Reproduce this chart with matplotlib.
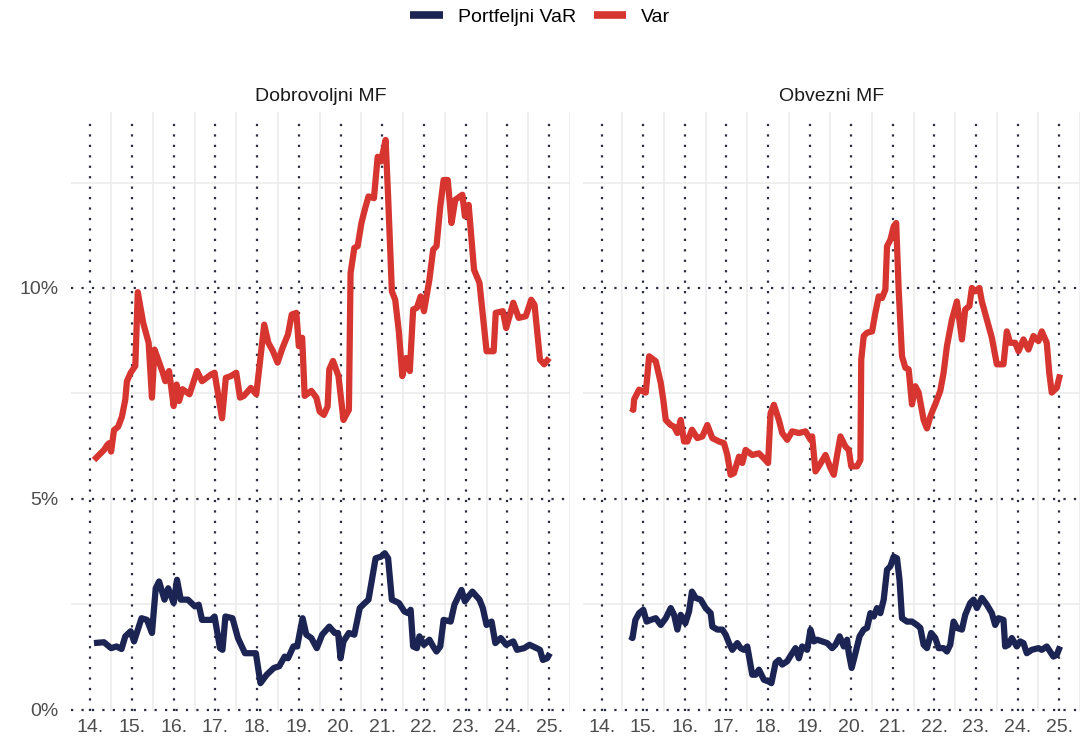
import matplotlib
matplotlib.use("Agg")
import matplotlib.pyplot as plt
from matplotlib.lines import Line2D

plt.rcParams['font.family'] = ['Liberation Sans', 'DejaVu Sans']

# godine (14 = 2014) i vrijednosti u %
dob_var_t = [14.09, 14.33, 14.41, 14.45, 14.50, 14.57, 14.67, 14.76, 14.84, 14.88, 14.97, 15.08,
             15.14, 15.27, 15.40, 15.48, 15.54, 15.60, 15.74, 15.80, 15.89, 16.00, 16.07, 16.13,
             16.21, 16.38, 16.56, 16.68, 16.90, 16.98, 17.16, 17.25, 17.37, 17.50, 17.59, 17.68,
             17.85, 17.98, 18.17, 18.27, 18.38, 18.49, 18.61, 18.74, 18.83, 18.94, 19.00, 19.08,
             19.14, 19.30, 19.42, 19.50, 19.60, 19.69, 19.73, 19.82, 19.95, 20.07, 20.20, 20.24,
             20.33, 20.41, 20.50, 20.59, 20.67, 20.80, 20.89, 20.97, 21.08, 21.14, 21.23, 21.31,
             21.40, 21.48, 21.57, 21.66, 21.74, 21.83, 21.92, 22.00, 22.13, 22.22, 22.30, 22.39,
             22.47, 22.57, 22.66, 22.75, 22.92, 22.98, 23.07, 23.20, 23.33, 23.50, 23.67, 23.72,
             23.89, 23.97, 24.14, 24.27, 24.44, 24.57, 24.65, 24.78, 24.88, 25.00]
dob_var_v = [5.92, 6.16, 6.28, 6.32, 6.12, 6.63, 6.71, 6.95, 7.35, 7.79, 7.99, 8.15,
             9.90, 9.17, 8.70, 7.40, 8.54, 8.38, 7.99, 7.79, 8.03, 7.20, 7.71, 7.32,
             7.60, 7.48, 8.03, 7.79, 7.95, 7.99, 6.91, 7.87, 7.91, 7.99, 7.40, 7.44,
             7.63, 7.48, 9.13, 8.70, 8.50, 8.23, 8.58, 8.90, 9.37, 9.41, 8.62, 8.82,
             7.44, 7.56, 7.40, 7.07, 6.99, 7.19, 8.07, 8.27, 7.91, 6.87, 7.11, 10.35,
             10.95, 10.99, 11.54, 11.89, 12.17, 12.13, 13.11, 13.00, 13.51, 12.17, 9.92, 9.72,
             8.94, 7.91, 8.34, 8.03, 9.49, 9.53, 9.80, 9.45, 10.20, 10.91, 10.99, 11.93,
             12.56, 12.56, 11.54, 12.09, 12.21, 11.70, 11.97, 10.43, 10.12, 8.50, 8.50, 9.41,
             9.45, 9.05, 9.65, 9.29, 9.33, 9.72, 9.60, 8.30, 8.19, 8.34]

dob_pvar_t = [14.09, 14.33, 14.50, 14.63, 14.75, 14.84, 14.97, 15.05, 15.23, 15.36, 15.48, 15.57,
              15.65, 15.78, 15.87, 16.00, 16.08, 16.17, 16.34, 16.51, 16.60, 16.68, 16.90, 16.98,
              17.11, 17.17, 17.24, 17.41, 17.54, 17.71, 17.84, 17.97, 18.08, 18.23, 18.40, 18.53,
              18.66, 18.74, 18.87, 18.96, 19.09, 19.18, 19.30, 19.43, 19.56, 19.73, 19.86, 19.94,
              20.00, 20.07, 20.20, 20.33, 20.46, 20.54, 20.67, 20.84, 20.97, 21.06, 21.14, 21.23,
              21.40, 21.53, 21.62, 21.68, 21.74, 21.83, 21.89, 22.00, 22.13, 22.22, 22.30, 22.39,
              22.47, 22.64, 22.73, 22.90, 22.98, 23.07, 23.16, 23.33, 23.41, 23.50, 23.62, 23.71,
              23.84, 23.97, 24.14, 24.23, 24.40, 24.53, 24.70, 24.78, 24.85, 24.95, 25.02]
dob_pvar_v = [1.58, 1.60, 1.46, 1.50, 1.44, 1.74, 1.86, 1.62, 2.17, 2.13, 1.82, 2.88,
              3.04, 2.61, 2.88, 2.53, 3.08, 2.61, 2.61, 2.45, 2.49, 2.13, 2.13, 2.21,
              1.46, 1.42, 2.21, 2.17, 1.70, 1.34, 1.34, 1.34, 0.63, 0.83, 0.99, 1.03,
              1.26, 1.22, 1.50, 1.50, 2.17, 1.78, 1.70, 1.46, 1.78, 1.97, 1.82, 1.82,
              1.22, 1.62, 1.82, 1.78, 2.41, 2.49, 2.61, 3.59, 3.63, 3.71, 3.59, 2.61,
              2.53, 2.33, 2.29, 2.37, 1.50, 1.46, 1.74, 1.54, 1.66, 1.50, 1.38, 1.50,
              2.13, 2.09, 2.49, 2.84, 2.57, 2.69, 2.80, 2.61, 2.41, 2.01, 2.09, 1.58,
              1.70, 1.54, 1.62, 1.42, 1.46, 1.54, 1.46, 1.42, 1.18, 1.22, 1.34]

obv_var_t = [14.70, 14.76, 14.78, 14.90, 15.06, 15.14, 15.30, 15.42, 15.48, 15.54, 15.66, 15.74,
             15.82, 15.90, 15.98, 16.06, 16.17, 16.30, 16.42, 16.54, 16.66, 16.82, 16.94, 17.02,
             17.10, 17.18, 17.30, 17.38, 17.46, 17.62, 17.78, 17.90, 18.00, 18.06, 18.14, 18.26,
             18.34, 18.46, 18.58, 18.74, 18.90, 19.02, 19.06, 19.14, 19.22, 19.38, 19.50, 19.58,
             19.66, 19.74, 19.86, 19.94, 20.00, 20.14, 20.22, 20.24, 20.30, 20.38, 20.50, 20.58,
             20.66, 20.74, 20.82, 20.86, 20.94, 21.02, 21.08, 21.14, 21.22, 21.30, 21.38, 21.46,
             21.54, 21.62, 21.74, 21.82, 21.90, 21.98, 22.02, 22.14, 22.22, 22.30, 22.42, 22.54,
             22.66, 22.74, 22.84, 22.90, 22.98, 23.08, 23.14, 23.26, 23.38, 23.50, 23.66, 23.74,
             23.82, 23.94, 24.02, 24.14, 24.26, 24.38, 24.50, 24.58, 24.70, 24.76, 24.82, 24.94,
             25.02]
obv_var_v = [7.15, 7.11, 7.36, 7.59, 7.52, 8.38, 8.26, 7.75, 7.35, 6.87, 6.75, 6.71,
             6.56, 6.87, 6.36, 6.36, 6.64, 6.44, 6.48, 6.75, 6.44, 6.36, 6.32, 6.04,
             5.57, 5.61, 6.00, 5.85, 6.16, 6.04, 6.08, 5.96, 5.85, 7.03, 7.23, 6.87,
             6.56, 6.40, 6.60, 6.56, 6.60, 6.40, 6.48, 5.65, 5.77, 6.04, 5.73, 5.57,
             6.04, 6.48, 6.24, 6.16, 5.77, 5.77, 5.92, 8.30, 8.86, 8.94, 8.97, 9.41,
             9.80, 9.76, 9.96, 10.99, 11.14, 11.46, 11.54, 9.96, 8.38, 8.11, 8.07, 7.24,
             7.67, 7.52, 6.87, 6.67, 6.95, 7.15, 7.24, 7.56, 7.99, 8.62, 9.25, 9.68,
             8.78, 9.49, 9.57, 10.00, 9.92, 10.00, 9.68, 9.25, 8.82, 8.19, 8.19, 8.97,
             8.70, 8.70, 8.50, 8.78, 8.54, 8.86, 8.74, 8.97, 8.70, 7.99, 7.52, 7.63,
             7.95]

obv_pvar_t = [14.68, 14.74, 14.81, 14.90, 15.00, 15.08, 15.18, 15.30, 15.42, 15.54, 15.66, 15.74,
              15.82, 15.90, 16.01, 16.10, 16.17, 16.26, 16.38, 16.50, 16.62, 16.66, 16.78, 16.90,
              16.98, 17.06, 17.14, 17.26, 17.34, 17.42, 17.50, 17.62, 17.70, 17.78, 17.90, 18.01,
              18.08, 18.18, 18.26, 18.34, 18.46, 18.58, 18.66, 18.74, 18.82, 18.94, 19.02, 19.10,
              19.18, 19.30, 19.42, 19.54, 19.62, 19.72, 19.82, 19.90, 19.94, 20.01, 20.10, 20.20,
              20.30, 20.38, 20.46, 20.54, 20.62, 20.70, 20.78, 20.86, 20.94, 21.02, 21.10, 21.16,
              21.22, 21.34, 21.46, 21.58, 21.66, 21.74, 21.82, 21.92, 22.02, 22.10, 22.22, 22.30,
              22.38, 22.46, 22.54, 22.66, 22.74, 22.86, 22.94, 23.02, 23.14, 23.26, 23.38, 23.46,
              23.54, 23.66, 23.70, 23.78, 23.86, 23.98, 24.06, 24.14, 24.22, 24.34, 24.50, 24.58,
              24.70, 24.78, 24.86, 24.94, 25.02]
obv_pvar_v = [1.74, 1.70, 2.13, 2.29, 2.37, 2.09, 2.13, 2.17, 2.01, 2.17, 2.41, 2.25,
              1.90, 2.25, 2.05, 2.33, 2.80, 2.65, 2.61, 2.41, 2.29, 1.97, 1.90, 1.90,
              1.78, 1.58, 1.42, 1.58, 1.46, 1.42, 1.50, 0.83, 0.83, 0.95, 0.71, 0.67,
              0.63, 1.11, 1.18, 1.07, 1.15, 1.34, 1.46, 1.22, 1.50, 1.42, 1.90, 1.62,
              1.66, 1.62, 1.58, 1.46, 1.54, 1.74, 1.50, 1.66, 1.34, 0.99, 1.34, 1.74,
              1.90, 1.94, 2.29, 2.21, 2.41, 2.29, 2.61, 3.32, 3.40, 3.63, 3.59, 3.08,
              2.17, 2.09, 2.09, 2.01, 1.94, 1.54, 1.46, 1.82, 1.70, 1.46, 1.46, 1.38,
              1.54, 2.09, 1.94, 1.90, 2.25, 2.53, 2.61, 2.41, 2.65, 2.49, 2.29, 2.01,
              2.17, 2.13, 1.50, 1.54, 1.70, 1.50, 1.62, 1.58, 1.34, 1.42, 1.46, 1.42,
              1.50, 1.38, 1.26, 1.30, 1.50]

years = list(range(14, 26))
year_labels = [f"{y}." for y in years]
y_major = [0, 5, 10]
y_labels = ["0%", "5%", "10%"]
panels = ["Dobrovoljni MF", "Obvezni MF"]
series_names = ["Portfeljni VaR", "Var"]

NAVY = "#1b2452"
RED = "#d63530"
DOTS = "#2a2d3e"
MINOR = "#ebebeb"

fig = plt.figure(figsize=(10.81, 7.41), dpi=100)
ax1 = fig.add_axes([0.0661, 0.0405, 0.4612, 0.8088])
ax2 = fig.add_axes([0.5393, 0.0405, 0.4598, 0.8088])

data = [
    ((dob_pvar_t, dob_pvar_v), (dob_var_t, dob_var_v)),
    ((obv_pvar_t, obv_pvar_v), (obv_var_t, obv_var_v)),
]

for ax, title, (pv, vr) in zip([ax1, ax2], panels, data):
    ax.set_xlim(13.55, 25.5)
    ax.set_ylim(-0.03, 14.18)
    for s in ax.spines.values():
        s.set_visible(False)

    # minor grid
    for x in [y + 0.5 for y in range(13, 26)]:
        ax.axvline(x, color=MINOR, lw=1.1, zorder=0)
    for yv in [2.5, 7.5, 12.5]:
        ax.axhline(yv, color=MINOR, lw=1.1, zorder=0)
    # dotted major grid
    for x in years:
        ax.axvline(x, ymax=0.99, color=DOTS, lw=1.6, ls=(0, (1, 3.7)), zorder=1)
    for yv in y_major:
        ax.axhline(yv, color=DOTS, lw=1.6, ls=(0, (1, 3.7)), zorder=1, clip_on=False)

    ax.plot(pv[0], pv[1], color=NAVY, lw=4.5, solid_joinstyle='round', solid_capstyle='butt', zorder=3)
    ax.plot(vr[0], vr[1], color=RED, lw=4.5, solid_joinstyle='round', solid_capstyle='butt', zorder=3)

    ax.set_xticks(years)
    ax.set_xticklabels(year_labels)
    ax.set_yticks(y_major)
    ax.tick_params(length=0, labelsize=14, colors="#4d4d4d")
    ax.tick_params(axis='x', pad=6)
    ax.tick_params(axis='y', pad=9)
    ax.set_title(title, fontsize=14, color="#1a1a1a", pad=8)

ax1.set_yticklabels(y_labels)
ax2.set_yticklabels([])

handles = [Line2D([], [], color=NAVY, lw=5.5, solid_capstyle='butt'),
           Line2D([], [], color=RED, lw=5.5, solid_capstyle='butt')]
fig.legend(handles, series_names, loc='center', bbox_to_anchor=(0.5, 0.977), ncol=2,
           frameon=False, fontsize=14, handlelength=1.65, handletextpad=0.8, columnspacing=0.9)

fig.savefig("out.png", dpi=100, facecolor="white")
